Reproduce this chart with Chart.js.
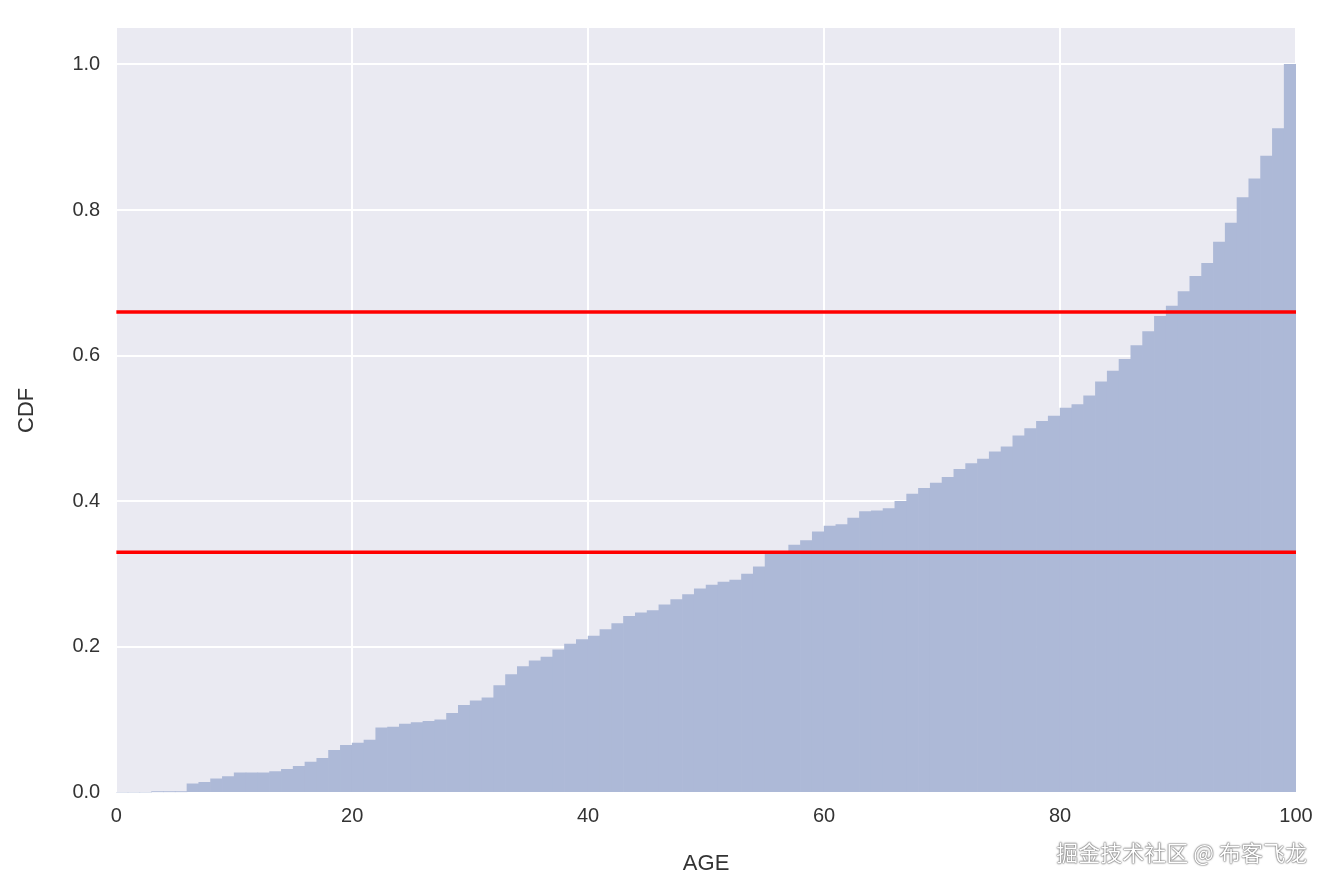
<!DOCTYPE html>
<html><head><meta charset="utf-8">
<script src="https://cdn.jsdelivr.net/npm/chart.js@4/dist/chart.umd.min.js"></script>
<style>html,body{margin:0;background:#fff}#w{position:relative;width:1333px;height:887px}
#wm{position:absolute;right:26px;bottom:20px;font:22px "Noto Sans CJK SC";color:#fff;text-shadow:0 0 2px #444,0 0 1px #444}</style>
</head><body><div id="w"><canvas id="c" width="1333" height="887"></canvas><div id="wm">掘金技术社区 @ 布客飞龙</div></div>
<script>
const binStarts = Array.from({length:100},(_,i)=>i);
const cdf = [0,0,0,0.001,0.001,0.001,0.012,0.014,0.019,0.022,
0.027,0.027,0.027,0.029,0.032,0.036,0.042,0.047,0.058,0.065,
0.068,0.072,0.089,0.09,0.094,0.096,0.098,0.1,0.109,0.12,
0.126,0.13,0.147,0.162,0.173,0.181,0.186,0.196,0.204,0.21,
0.215,0.224,0.232,0.242,0.247,0.25,0.258,0.265,0.272,0.28,
0.285,0.289,0.292,0.3,0.31,0.33,0.33,0.34,0.346,0.358,
0.366,0.368,0.377,0.386,0.387,0.39,0.4,0.41,0.418,0.425,
0.433,0.444,0.452,0.458,0.468,0.475,0.49,0.5,0.51,0.517,
0.528,0.533,0.545,0.564,0.579,0.595,0.614,0.633,0.654,0.668,
0.688,0.709,0.727,0.756,0.782,0.817,0.843,0.874,0.912,1.0];
const refLines = [0.33, 0.66];
const xTicks = [0,20,40,60,80,100];
const yTicks = [0,0.2,0.4,0.6,0.8,1.0];
const bg = {id:'bg',beforeDraw(ch){const a=ch.chartArea,c=ch.ctx;c.save();c.fillStyle='#eaeaf2';c.fillRect(a.left,a.top,a.right-a.left,a.bottom-a.top);c.restore();}};
const ds = [{type:'bar',data:binStarts.map((s,i)=>({x:s+0.5,y:cdf[i]})),backgroundColor:'#adb9d7',barPercentage:1,categoryPercentage:1,borderWidth:0,order:2}];
refLines.forEach(v=>ds.push({type:'line',data:[{x:0,y:v},{x:100,y:v}],borderColor:'#ff0000',borderWidth:3.5,pointRadius:0,order:1}));
const font={family:'"Liberation Sans", Arial',size:20};
new Chart(document.getElementById('c'),{
 data:{datasets:ds},
 plugins:[bg],
 options:{responsive:false,animation:false,
  layout:{padding:{left:10,right:37,top:5,bottom:6}},
  plugins:{legend:{display:false},tooltip:{enabled:false}},
  scales:{
   x:{type:'linear',min:0,max:100,offset:false,afterBuildTicks(a){a.ticks=xTicks.map(v=>({value:v}));},
      grid:{color:'#fff',lineWidth:2,drawTicks:false,offset:false},border:{display:false},
      ticks:{color:'#333',font,padding:12},
      title:{display:true,text:'AGE',color:'#333',font:{...font,size:22},padding:{top:10}}},
   y:{min:0,max:1.05,afterBuildTicks(a){a.ticks=yTicks.map(v=>({value:v}));},
      grid:{color:'#fff',lineWidth:2,drawTicks:false},border:{display:false},
      ticks:{color:'#333',font,padding:16,callback:v=>v.toFixed(1)},
      title:{display:true,text:'CDF',color:'#333',font:{...font,size:22},padding:{bottom:16}}}
  }}
});
</script></body></html>
